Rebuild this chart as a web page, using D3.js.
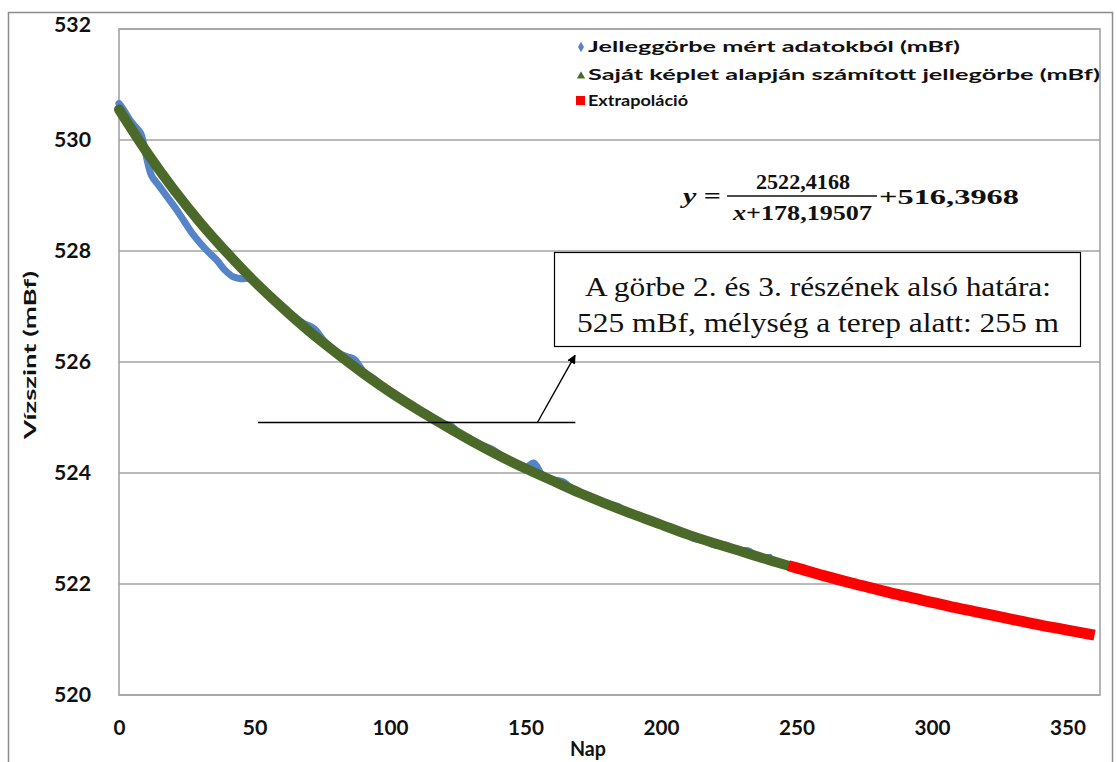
<!DOCTYPE html>
<html>
<head>
<meta charset="utf-8">
<script src="https://cdn.jsdelivr.net/npm/d3@7"></script>
<style>
  body { margin: 0; background: #fff; }
  svg { display: block; }
</style>
</head>
<body>
<div id="chart"></div>
<script>
// measured data (day, mBf)
var measuredDays = [0,2,4,6,8,10,12,15,18,21,24,27,30,33,36,39,42,45,48,52,56,60,64,68,72,76,80,84,87,90,94,98,102,106,110,114,118,122,126,130,134,138,142,146,150,153,156,160,164,168,172,176,180,184,188,192,196,200,204,208,212,216,220,224,228,232,236,240];
var measuredVals = [530.66,530.52,530.36,530.24,530.12,529.72,529.36,529.16,528.96,528.76,528.54,528.32,528.14,527.98,527.84,527.66,527.54,527.50,527.50,527.34,527.16,526.98,526.84,526.70,526.60,526.36,526.18,526.10,526.04,525.84,525.70,525.54,525.38,525.28,525.14,525.06,524.90,524.86,524.70,524.60,524.50,524.42,524.28,524.18,524.10,524.18,523.98,523.88,523.84,523.68,523.62,523.54,523.44,523.40,523.26,523.24,523.12,523.08,522.98,522.94,522.82,522.78,522.70,522.70,522.60,522.60,522.48,522.48];

// computed curve (green)
var calcDays = [0,10,20,30,40,50,60,70,80,90,100,110,120,130,140,150,160,170,180,190,200,210,220,230,240,247];
var calcVals = [530.55,529.80,529.12,528.51,527.96,527.45,526.99,526.56,526.17,525.80,525.46,525.15,524.86,524.58,524.32,524.08,523.86,523.64,523.44,523.25,523.07,522.89,522.73,522.58,522.43,522.33];

// extrapolation (red)
var extraDays = [247,250,260,270,280,290,300,310,320,330,340,350,360];
var extraVals = [522.33,522.29,522.15,522.02,521.90,521.78,521.67,521.56,521.46,521.36,521.26,521.17,521.08];

var xTicks = [0,50,100,150,200,250,300,350];
var yTicks = [520,522,524,526,528,530,532];

var legendLabels = ["Jelleggörbe mért adatokból  (mBf)", "Saját képlet alapján számított jellegörbe (mBf)", "Extrapoláció"];

var W = 1117, H = 762;
var plotLeft = 119, plotTop = 29, plotRight = 1100, plotBottom = 695;

var svg = d3.select("#chart").append("svg")
    .attr("width", W)
    .attr("height", H);

// outer chart frame
svg.append("rect")
    .attr("x", 8.5).attr("y", 12.5)
    .attr("width", 1104).attr("height", 780)
    .attr("fill", "none")
    .attr("stroke", "#8c8c8c")
    .attr("stroke-width", 1.5);

var x = d3.scaleLinear().domain([0, 362]).range([plotLeft, plotRight]);
var y = d3.scaleLinear().domain([520, 532]).range([plotBottom, plotTop]);

// gridlines
yTicks.forEach(function(t) {
    svg.append("line")
        .attr("x1", plotLeft).attr("x2", plotRight)
        .attr("y1", y(t)).attr("y2", y(t))
        .attr("stroke", "#a3a3a3")
        .attr("stroke-width", 1.6);
});

// plot border
svg.append("rect")
    .attr("x", plotLeft).attr("y", plotTop)
    .attr("width", plotRight - plotLeft).attr("height", plotBottom - plotTop)
    .attr("fill", "none")
    .attr("stroke", "#a3a3a3")
    .attr("stroke-width", 1.6);

// y tick labels
var yAxis = d3.axisLeft(y).tickValues(yTicks).tickSize(0).tickPadding(28);
var gy = svg.append("g").attr("transform", "translate(" + plotLeft + ",0)").call(yAxis);
gy.select(".domain").remove();
gy.selectAll("text")
    .attr("font-family", "Lato, 'Open Sans', sans-serif")
    .attr("font-weight", "bold")
    .attr("font-size", 20)
    .attr("fill", "#111")
    .attr("textLength", 37)
    .attr("lengthAdjust", "spacingAndGlyphs");
gy.selectAll(".tick").filter(function(d) { return d === 532; })
    .select("text").attr("dy", "0.1em");

// x tick labels
var xAxis = d3.axisBottom(x).tickValues(xTicks).tickSize(0).tickPadding(26);
var gx = svg.append("g").attr("transform", "translate(0," + plotBottom + ")").call(xAxis);
gx.select(".domain").remove();
gx.selectAll("text")
    .attr("font-family", "Lato, 'Open Sans', sans-serif")
    .attr("font-weight", "bold")
    .attr("font-size", 20)
    .attr("fill", "#111")
    .attr("textLength", function(d) { return d < 10 ? 12 : (d < 100 ? 25 : 36); })
    .attr("lengthAdjust", "spacingAndGlyphs");

// axis titles
svg.append("text")
    .attr("x", 588).attr("y", 756)
    .attr("text-anchor", "middle")
    .attr("font-family", "Lato, 'Open Sans', sans-serif")
    .attr("font-weight", "bold")
    .attr("font-size", 20)
    .attr("fill", "#111")
    .attr("textLength", 36)
    .attr("lengthAdjust", "spacingAndGlyphs")
    .text("Nap");

svg.append("text")
    .attr("transform", "translate(36,355) rotate(-90)")
    .attr("text-anchor", "middle")
    .attr("font-family", "Lato, 'Open Sans', sans-serif")
    .attr("font-weight", "bold")
    .attr("font-size", 17)
    .attr("fill", "#111")
    .attr("textLength", 168)
    .attr("lengthAdjust", "spacingAndGlyphs")
    .text("Vízszint (mBf)");

// series
var line = d3.line()
    .x(function(d) { return x(d[0]); })
    .y(function(d) { return y(d[1]); });

var measured = measuredDays.map(function(d, i) { return [d, measuredVals[i]]; });
var calc = calcDays.map(function(d, i) { return [d, calcVals[i]]; });
var extra = extraDays.map(function(d, i) { return [d, extraVals[i]]; });

svg.append("path")
    .datum(measured)
    .attr("d", line.curve(d3.curveCatmullRom))
    .attr("fill", "none")
    .attr("stroke", "#5585c8")
    .attr("stroke-width", 7)
    .attr("stroke-linejoin", "round")
    .attr("stroke-linecap", "round");

svg.append("path")
    .datum(calc)
    .attr("d", line.curve(d3.curveMonotoneX))
    .attr("fill", "none")
    .attr("stroke", "#4b6a29")
    .attr("stroke-width", 10)
    .attr("stroke-linecap", "round");

svg.append("path")
    .datum(extra)
    .attr("d", line.curve(d3.curveMonotoneX))
    .attr("fill", "none")
    .attr("stroke", "#ff0000")
    .attr("stroke-width", 11);

// legend
var legendY = [47, 75, 101];
var legendLen = [372, 512, 100];
var lg = svg.append("g");
legendLabels.forEach(function(lbl, i) {
    lg.append("text")
        .attr("x", 588).attr("y", legendY[i] + 5)
        .attr("font-family", "Lato, 'Open Sans', sans-serif")
        .attr("font-weight", "bold")
        .attr("font-size", 16)
        .attr("fill", "#111")
        .attr("textLength", legendLen[i])
        .attr("lengthAdjust", "spacingAndGlyphs")
        .text(lbl);
});
lg.append("path")
    .attr("d", d3.symbol().type(d3.symbolDiamond).size(32)())
    .attr("transform", "translate(581," + legendY[0] + ")")
    .attr("fill", "#5585c8");
lg.append("path")
    .attr("d", d3.symbol().type(d3.symbolTriangle).size(30)())
    .attr("transform", "translate(581," + (legendY[1] + 1) + ")")
    .attr("fill", "#4b6a29");
lg.append("rect")
    .attr("x", 576).attr("y", legendY[2] - 5)
    .attr("width", 9).attr("height", 9)
    .attr("fill", "#ff0000");

// equation
var eq = svg.append("g")
    .attr("font-family", "'Liberation Serif', 'DejaVu Serif', serif")
    .attr("font-weight", "bold")
    .attr("font-size", 22)
    .attr("fill", "#111");
eq.append("text").attr("x", 683).attr("y", 203)
    .attr("textLength", 38).attr("lengthAdjust", "spacingAndGlyphs")
    .html('<tspan font-style="italic">y</tspan> =');
eq.append("line")
    .attr("x1", 727).attr("x2", 877)
    .attr("y1", 196).attr("y2", 196)
    .attr("stroke", "#111").attr("stroke-width", 1.6);
eq.append("text").attr("x", 756).attr("y", 189)
    .attr("textLength", 94).attr("lengthAdjust", "spacingAndGlyphs")
    .text("2522,4168");
eq.append("text").attr("x", 733).attr("y", 220)
    .attr("textLength", 139).attr("lengthAdjust", "spacingAndGlyphs")
    .html('<tspan font-style="italic">x</tspan>+178,19507');
eq.append("text").attr("x", 879).attr("y", 204)
    .attr("textLength", 140).attr("lengthAdjust", "spacingAndGlyphs")
    .text("+516,3968");

// annotation box
svg.append("rect")
    .attr("x", 554.5).attr("y", 252.5)
    .attr("width", 526).attr("height", 94)
    .attr("fill", "#fff")
    .attr("stroke", "#000")
    .attr("stroke-width", 1.2);
var boxLines = ["A görbe 2. és 3. részének alsó határa:", "525 mBf, mélység a terep alatt: 255 m"];
var boxLen = [466, 482];
boxLines.forEach(function(t, i) {
    svg.append("text")
        .attr("x", 818).attr("y", 296 + i * 36)
        .attr("text-anchor", "middle")
        .attr("font-family", "'Liberation Serif', 'Times New Roman', serif")
        .attr("font-size", 27)
        .attr("fill", "#111")
        .attr("textLength", boxLen[i])
        .attr("lengthAdjust", "spacingAndGlyphs")
        .text(t);
});

// callout line with arrow (data coordinates)
svg.append("defs").append("marker")
    .attr("id", "arrow")
    .attr("viewBox", "0 0 10 10")
    .attr("refX", 9).attr("refY", 5)
    .attr("markerWidth", 9).attr("markerHeight", 9)
    .attr("markerUnits", "userSpaceOnUse")
    .attr("orient", "auto")
    .append("path")
    .attr("d", "M0,0 L10,5 L0,10 z")
    .attr("fill", "#000");

svg.append("line")
    .attr("x1", x(51.3)).attr("x2", x(168.4))
    .attr("y1", y(524.91)).attr("y2", y(524.91))
    .attr("stroke", "#000").attr("stroke-width", 1.4);
svg.append("line")
    .attr("x1", x(154.4)).attr("y1", y(524.91))
    .attr("x2", x(168.3)).attr("y2", y(526.12))
    .attr("stroke", "#000").attr("stroke-width", 1.4)
    .attr("marker-end", "url(#arrow)");
</script>
</body>
</html>
